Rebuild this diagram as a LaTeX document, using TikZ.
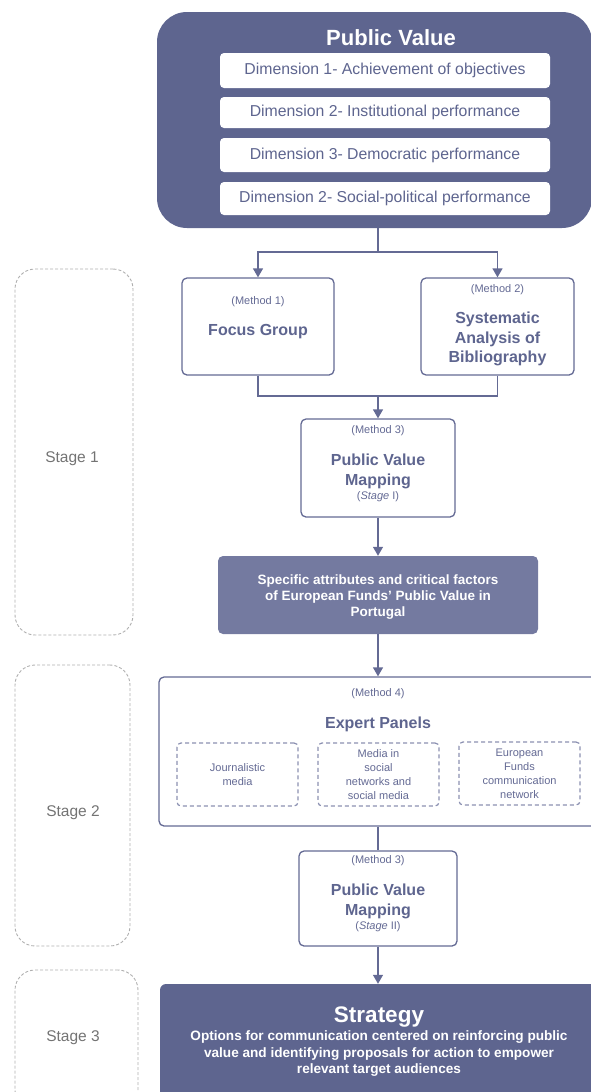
\documentclass[tikz,border=0pt]{standalone}
\usepackage{fontspec}
\setmainfont{Liberation Sans}
\usetikzlibrary{arrows.meta}
\definecolor{pvdark}{RGB}{94,101,143}
\definecolor{pvmid}{RGB}{116,122,160}
\definecolor{pvline}{RGB}{100,106,148}
\definecolor{pvdash}{RGB}{140,145,178}
\definecolor{stgray}{RGB}{175,175,175}
\definecolor{sttext}{RGB}{115,115,115}
\tikzset{
  darkbox/.style={fill=pvdark, draw=none, rounded corners=30pt, inner sep=0pt},
  dimbox/.style={fill=white, draw=none, rounded corners=4pt, minimum width=330pt, inner sep=0pt, text=pvdark, font=\fontsize{15.8}{18}\selectfont},
  wbox/.style={fill=white, draw=pvline, line width=1.3pt, rounded corners=5pt, inner sep=0pt},
  midbox/.style={fill=pvmid, draw=none, rounded corners=5pt, inner sep=0pt},
  strbox/.style={fill=pvdark, draw=none, rounded corners=6pt, inner sep=0pt},
  dbox/.style={draw=pvdash, line width=1.2pt, dash pattern=on 4pt off 3pt, rounded corners=4pt, inner sep=0pt, minimum width=121pt, minimum height=63pt, align=center, text=pvline, font=\fontsize{11}{14}\selectfont},
  stagebox/.style={draw=stgray, line width=0.9pt, dash pattern=on 3pt off 2pt, rounded corners=20pt, inner sep=0pt},
  stagelbl/.style={text=sttext, font=\fontsize{15.5}{18}\selectfont},
  meth/.style={text=pvline, font=\fontsize{11}{13}\selectfont},
  ttl/.style={text=pvdark, align=center, font=\bfseries\fontsize{16}{20}\selectfont},
  wtxt/.style={text=white, align=center, font=\bfseries\fontsize{13.5}{16}\selectfont},
  conn/.style={draw=pvline, line width=1.3pt},
  arr/.style={conn, -{Triangle[width=10pt,length=9pt]}}
}
\begin{document}
\begin{tikzpicture}[x=1pt,y=-1pt]
\useasboundingbox (0,0) rectangle (590,1092);
% stage boxes
\node[stagebox, minimum width=118pt, minimum height=366pt] (s1) at (74,452) {};
\node[stagelbl] (s1t) at (72,459) {Stage 1};
\node[stagebox, minimum width=115pt, minimum height=281pt] (s2) at (72.5,805.5) {};
\node[stagelbl] (s2t) at (73,813) {Stage 2};
\node[stagebox, minimum width=123pt, minimum height=140pt] (s3) at (76.5,1040) {};
\node[stagelbl] (s3t) at (73,1038) {Stage 3};
% top box
\node[darkbox, minimum width=435pt, minimum height=216pt] (pv) at (374.5,120) {};
\node[text=white, font=\bfseries\fontsize{22}{26}\selectfont] (pvt) at (391,38) {Public Value};
\node[dimbox, minimum height=35pt] (d1) at (385,70.5) {Dimension 1- Achievement of objectives};
\node[dimbox, minimum height=31pt] (d2) at (385,112.5) {Dimension 2- Institutional performance};
\node[dimbox, minimum height=34pt] (d3) at (385,155) {Dimension 3- Democratic performance};
\node[dimbox, minimum height=33pt] (d4) at (385,198.5) {Dimension 2- Social-political performance};
% method 1 and 2
\node[wbox, minimum width=152pt, minimum height=97pt] (fg) at (258,326.5) {};
\node[meth] (fgm) at (258,302) {(Method 1)};
\node[ttl] (fgt) at (258,332) {Focus Group};
\node[wbox, minimum width=153pt, minimum height=97pt] (sab) at (497.5,326.5) {};
\node[meth] (sabm) at (497.5,290) {(Method 2)};
\node[ttl, font=\bfseries\fontsize{16}{19.5}\selectfont] (sabt) at (497.5,339) {Systematic\\Analysis of\\Bibliography};
% method 3 stage I
\node[wbox, minimum width=154pt, minimum height=98pt] (pv1) at (378,468) {};
\node[meth] (pv1m) at (378,431) {(Method 3)};
\node[ttl] (pv1t) at (378,471) {Public Value\\Mapping};
\node[meth] (pv1s) at (378,497) {(\textit{Stage} I)};
% specific attributes
\node[midbox, minimum width=320pt, minimum height=78pt] (spec) at (378,595) {};
\node[wtxt] (spect) at (378,597) {Specific attributes and critical factors\\of European Funds' Public Value in\\Portugal};
% expert panels
\node[wbox, minimum width=441pt, minimum height=149pt] (exp) at (379.5,751.5) {};
\node[meth] (expm) at (378,694) {(Method 4)};
\node[ttl] (expt) at (378,724) {Expert Panels};
\node[dbox] (e1) at (237.5,774.5) {Journalistic\\media};
\node[dbox] (e2) at (378.5,774.5) {Media in\\social\\networks and\\social media};
\node[dbox] (e3) at (519.5,773.5) {European\\Funds\\communication\\network};
% method 3 stage II
\node[wbox, minimum width=158pt, minimum height=95pt] (pv2) at (378,898.5) {};
\node[meth] (pv2m) at (378,861) {(Method 3)};
\node[ttl] (pv2t) at (378,901) {Public Value\\Mapping};
\node[meth] (pv2s) at (378,927) {(\textit{Stage} II)};
% strategy
\node[strbox, minimum width=450pt, minimum height=136pt] (str) at (385,1052) {};
\node[text=white, font=\bfseries\fontsize{22.5}{26}\selectfont] (strt) at (379,1017) {Strategy};
\node[wtxt, font=\bfseries\fontsize{13.6}{16.5}\selectfont] (strd) at (379,1053.5) {Options for communication centered on reinforcing public\\value and identifying proposals for action to empower\\relevant target audiences};
% connectors
\coordinate (j1) at (378,252);
\coordinate (j2) at (378,396);
\draw[conn] (pv.south -| j1) -- (j1);
\draw[arr] (j1) -| (fg.north);
\draw[arr] (j1) -| (sab.north);
\draw[conn] (fg.south) |- (j2);
\draw[conn] (sab.south) |- (j2);
\draw[arr] (j2) -- (pv1.north);
\draw[arr] (pv1.south) -- (spec.north);
\draw[arr] (spec.south) -- (exp.north -| spec.south);
\draw[conn] (exp.south -| pv2.north) -- (pv2.north);
\draw[arr] (pv2.south) -- (str.north -| pv2.south);
\end{tikzpicture}
\end{document}
